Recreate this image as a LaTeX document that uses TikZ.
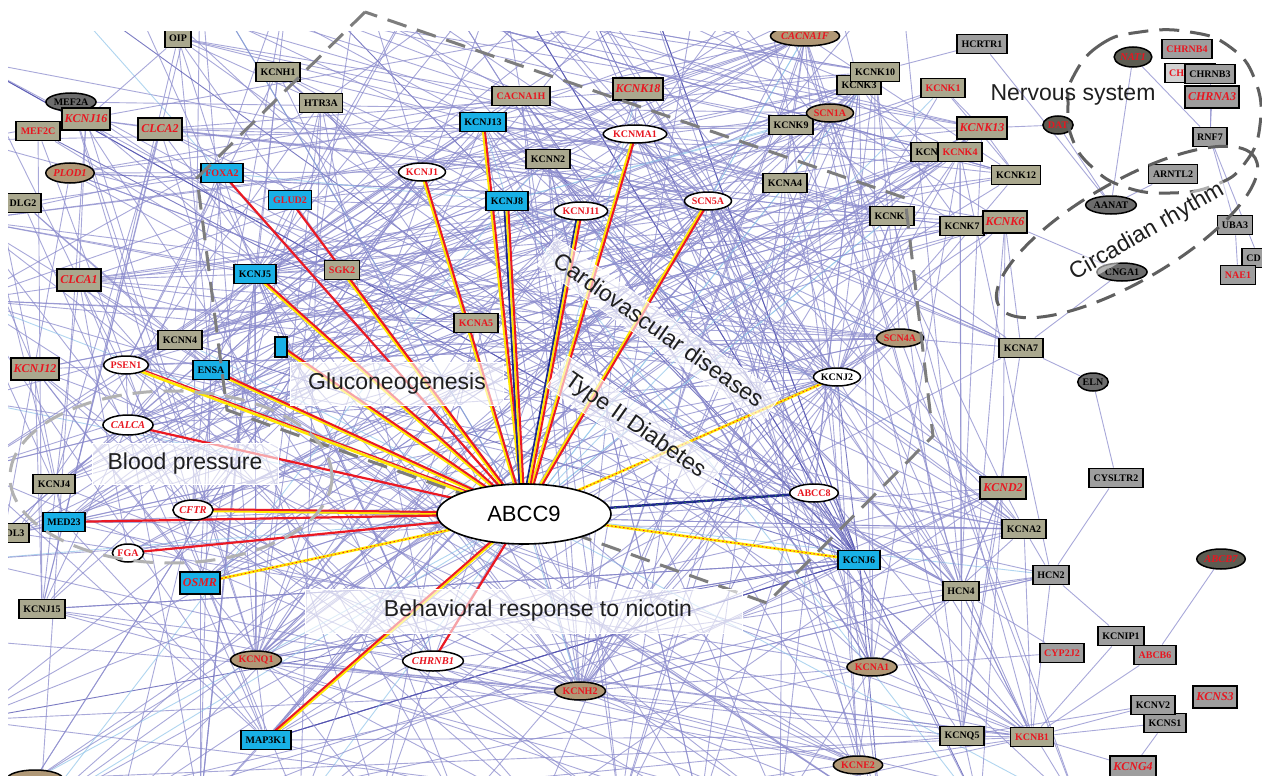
\documentclass[tikz,border=0pt]{standalone}
\usepackage{fontspec}
\setmainfont{Liberation Sans}
\newfontfamily\gnserif{Liberation Serif}
\usetikzlibrary{shapes.geometric,calc}
\pgfdeclarelayer{edgelayer}
\pgfdeclarelayer{dashlayer}
\pgfdeclarelayer{toplayer}
\pgfsetlayers{edgelayer,main,dashlayer,toplayer}
\definecolor{khaki}{RGB}{170,168,142}
\definecolor{kellf}{RGB}{176,152,118}
\definecolor{grayf}{RGB}{158,158,158}
\definecolor{cyanf}{RGB}{24,176,230}
\definecolor{darkf}{RGB}{108,108,108}
\definecolor{darkr}{RGB}{92,92,82}
\definecolor{redt}{RGB}{232,22,32}
\definecolor{lavc}{RGB}{140,140,205}
\definecolor{lavd}{RGB}{80,80,175}
\definecolor{lblu}{RGB}{150,200,235}
\definecolor{dashg}{RGB}{125,125,125}
\definecolor{dashd}{RGB}{95,95,95}
\definecolor{spred}{RGB}{235,25,35}
\definecolor{spyel}{RGB}{255,232,0}
\definecolor{spblu}{RGB}{30,40,140}
\newcommand{\gnfont}{\gnserif\bfseries\fontsize{10}{11}\selectfont}
\newcommand{\lblfont}{\fontsize{23}{26}\selectfont}
\newcommand{\spR}[1]{\draw[draw=spred, line width=2.2pt] (abcc9.center) -- (#1.center);}
\newcommand{\spRY}[1]{%
 \draw[draw=spyel, line width=2pt] ($(abcc9.center)!1pt!90:(#1.center)$) -- ($(#1.center)!1pt!-90:(abcc9.center)$);
 \draw[draw=spred, line width=2pt] ($(abcc9.center)!1pt!-90:(#1.center)$) -- ($(#1.center)!1pt!90:(abcc9.center)$);}
\newcommand{\spYR}[1]{%
 \draw[draw=spyel, line width=2.6pt] ($(abcc9.center)!0.8pt!90:(#1.center)$) -- ($(#1.center)!0.8pt!-90:(abcc9.center)$);
 \draw[draw=spred, line width=1.2pt] ($(abcc9.center)!1.4pt!-90:(#1.center)$) -- ($(#1.center)!1.4pt!90:(abcc9.center)$);}
\newcommand{\spRYB}[1]{%
 \draw[draw=spblu, line width=1.8pt] ($(abcc9.center)!3pt!90:(#1.center)$) -- ($(#1.center)!3pt!-90:(abcc9.center)$);
 \draw[draw=spyel, line width=2pt] ($(abcc9.center)!1pt!90:(#1.center)$) -- ($(#1.center)!1pt!-90:(abcc9.center)$);
 \draw[draw=spred, line width=2pt] ($(abcc9.center)!1pt!-90:(#1.center)$) -- ($(#1.center)!1pt!90:(abcc9.center)$);}
\newcommand{\spYD}[1]{%
 \draw[draw=spyel, line width=2.6pt] (abcc9.center) -- (#1.center);
 \draw[draw=spred, line width=0.8pt, dash pattern=on 1.5pt off 2.5pt] (abcc9.center) -- (#1.center);}
\newcommand{\spB}[1]{%
 \draw[draw=spblu, line width=2.4pt] (abcc9.center) -- (#1.center);
 \draw[draw=green!70!yellow, line width=0.6pt, dash pattern=on 1pt off 6pt] (abcc9.center) -- (#1.center);}
\def\poolarr{{1,2,3,4,5,6,7,8,9,10,11,12,13,14,15,16,17,18,19,20,21,22,23,24,25,26,27,28,29,30,31,32,33,34,35,36,37,39,40,41,42,43,44,45,59,60,62,63,64,65,66,67,68,69,70,71,72,73,74,75,76,77,78,80,82,83,87,91,92,94,95,96,97,98,99,100,101,102,103,104,105,106,107,108,109,110,111,112,113,114,115,116,117,118,119,120,121,122,123,124,125,126,127,128,129}}
\tikzset{
 nb/.style={font=\gnfont, text=black, draw=black, line width=1.8pt, inner xsep=4.5pt, inner ysep=0pt, minimum height=19pt},
 kbox/.style={nb, rectangle, fill=khaki},
 gbox/.style={nb, rectangle, fill=grayf},
 bbox/.style={nb, rectangle, fill=cyanf},
 ell/.style={nb, ellipse, inner xsep=0.5pt, line width=1.5pt, minimum height=18pt},
 well/.style={ell, fill=white},
 kell/.style={ell, fill=kellf},
 dell/.style={ell, fill=darkf},
 rt/.style={text=redt},
 itx/.style={font=\gnserif\bfseries\itshape\fontsize{12}{13}\selectfont, minimum height=22pt, inner xsep=3pt},
 ite/.style={font=\gnserif\bfseries\itshape\fontsize{10.5}{11}\selectfont, minimum height=20pt},
 lnk/.style={line width=0.9pt, draw opacity=0.75},
 dashreg/.style={draw=dashg, line width=3pt, dash pattern=on 20pt off 11pt},
 regbox/.style={fill=white, fill opacity=0.6, text opacity=1, draw=white, line width=0.8pt, font=\lblfont, text=black!88},
 lbl/.style={font=\lblfont, text=black!88},
}
\begin{document}
\begin{tikzpicture}[x=1pt,y=-1pt]
\useasboundingbox (0,0) rectangle (1262,776);
% ---------- nodes ----------
\begin{scope}
\clip (8,32) rectangle (1262,776);
\node[kbox, alias=v1] (oip) at (178,38) {OIP};
\node[kbox, alias=v2] (kcnh1) at (278,72) {KCNH1};
\node[kbox, alias=v3] (htr3a) at (321,103) {HTR3A};
\node[dell, alias=v4] (mef2a) at (71,102) {MEF2A};
\node[kbox, rt, alias=v6] (mef2c) at (38,131) {MEF2C};
\node[kbox, rt, itx, alias=v5] (kcnj16) at (86,119) {KCNJ16};
\node[kbox, rt, itx, alias=v7] (clca2) at (160,129) {CLCA2};
\node[kell, rt, ite, alias=v8] (plod1) at (70,173) {PLOD1};
\node[kbox, alias=v9] (dlg2) at (23,203) {DLG2};
\node[bbox, rt, alias=v10] (foxa2) at (222,173) {FOXA2};
\node[bbox, rt, alias=v11] (glud2) at (290,200) {GLUD2};
\node[kbox, rt, itx, alias=v12] (clca1) at (79,280) {CLCA1};
\node[bbox, alias=v13] (kcnj5) at (255,274) {KCNJ5};
\node[kbox, rt, alias=v14] (sgk2) at (342,270) {SGK2};
\node[kbox, alias=v15] (kcnn4) at (180,340) {KCNN4};
\node[bbox, minimum width=12pt, minimum height=20pt, inner sep=0pt, alias=v16] (blank) at (281,347) {};
\node[kbox, rt, itx, alias=v17] (kcnj12) at (35,369) {KCNJ12};
\node[well, rt, alias=v18] (psen1) at (126,365) {PSEN1};
\node[bbox, alias=v19] (ensa) at (211,370) {ENSA};
\node[kbox, rt, alias=v20] (cacna1h) at (521,96) {CACNA1H};
\node[kbox, rt, itx, alias=v21] (kcnk18) at (638,89) {KCNK18};
\node[bbox, alias=v22] (kcnj13) at (483,122) {KCNJ13};
\node[well, rt, alias=v23] (kcnma1) at (635,134) {KCNMA1};
\node[kbox, alias=v24] (kcnn2) at (548,159) {KCNN2};
\node[well, rt, alias=v25] (kcnj1) at (422,172) {KCNJ1};
\node[bbox, alias=v26] (kcnj8) at (507,201) {KCNJ8};
\node[well, rt, alias=v27] (kcnj11) at (581,211) {KCNJ11};
\node[well, rt, alias=v28] (scn5a) at (708,201) {SCN5A};
\node[kbox, alias=v29] (kcna4) at (785,183) {KCNA4};
\node[kbox, rt, alias=v30] (kcna5) at (476,323) {KCNA5};
\node[kell, rt, ite, alias=v31] (cacna1f) at (805,36) {CACNA1F};
\node[kbox, alias=v32] (kcnk9) at (791,125) {KCNK9};
\node[kell, rt, alias=v33] (scn1a) at (830,113) {SCN1A};
\node[well, alias=v34] (kcnj2) at (837,377) {KCNJ2};
\node[kbox, alias=v36] (kcnk3) at (859,85) {KCNK3};
\node[kbox, alias=v35] (kcnk10) at (875,72) {KCNK10};
\node[kbox, rt, alias=v37] (kcnk1a) at (943,88) {KCNK1};
\node[gbox, alias=v38] (hcrtr1) at (982,44) {HCRTR1};
\node[kbox, rt, itx, alias=v39] (kcnk13) at (982,128) {KCNK13};
\node[kbox, alias=v40] (kcnk5) at (933,152) {KCNK5};
\node[kbox, rt, alias=v41] (kcnk4) at (960,152) {KCNK4};
\node[kbox, alias=v42] (kcnk12) at (1016,175) {KCNK12};
\node[kbox, alias=v43] (kcnk1b) at (892,216) {KCNK1};
\node[kbox, alias=v44] (kcnk7) at (962,226) {KCNK7};
\node[kbox, rt, itx, alias=v45] (kcnk6) at (1005,222) {KCNK6};
\node[dell, rt, ite, fill=darkr, alias=v46] (nat1) at (1133,57) {NAT1};
\node[gbox, rt, alias=v47] (chrnb4) at (1187,49) {CHRNB4};
\node[gbox, rt, fill=gray!35, alias=v48] (chrnax) at (1190,73) {CH\phantom{RNA4}};
\node[gbox, alias=v49] (chrnb3) at (1210,74) {CHRNB3};
\node[gbox, rt, itx, alias=v50] (chrna3) at (1212,97) {CHRNA3};
\node[gbox, alias=v51] (rnf7) at (1210,137) {RNF7};
\node[dell, rt, fill=darkr, alias=v52] (dat) at (1058,125) {DAT};
\node[gbox, alias=v53] (arntl2) at (1173,174) {ARNTL2};
\node[dell, alias=v54] (aanat) at (1111,205) {AANAT};
\node[gbox, alias=v55] (uba3) at (1235,225) {UBA3};
\node[gbox, anchor=west, alias=v56] (cdx) at (1241,258) {CD\phantom{36}};
\node[gbox, rt, alias=v57] (nae1) at (1238,275) {NAE1};
\node[dell, alias=v58] (cnga1) at (1122,272) {CNGA1};
\node[kell, rt, alias=v59] (scn4a) at (900,338) {SCN4A};
\node[kbox, alias=v60] (kcna7) at (1021,348) {KCNA7};
\node[dell, alias=v61] (eln) at (1093,382) {ELN};
\node[well, rt, ite, alias=v62] (calca) at (128,425) {CALCA};
\node[kbox, alias=v63] (kcnj4) at (54,484) {KCNJ4};
\node[bbox, alias=v64] (med23) at (64,522) {MED23};
\node[kbox, alias=v65] (dl3) at (15,533) {DL3};
\node[well, rt, ite, alias=v66] (cftr) at (193,510) {CFTR};
\node[well, rt, alias=v67] (fga) at (128,553) {FGA};
\node[bbox, rt, itx, alias=v68] (osmr) at (200,583) {OSMR};
\node[kbox, alias=v69] (kcnj15) at (42,609) {KCNJ15};
\node[kell, rt, alias=v70] (kcnq1) at (256,660) {KCNQ1};
\node[bbox, alias=v71] (map3k1) at (266,740) {MAP3K1};
\node[kell, minimum width=56pt, alias=v72] (plodx) at (35,779) {};
\node[well, rt, alias=v74] (abcc8) at (814,493) {ABCC8};
\node[bbox, alias=v75] (kcnj6) at (859,560) {KCNJ6};
\node[well, rt, ite, alias=v76] (chrnb1) at (433,661) {CHRNB1};
\node[kell, rt, alias=v77] (kcnh2) at (580,691) {KCNH2};
\node[kbox, rt, itx, alias=v78] (kcnd2) at (1003,488) {KCND2};
\node[gbox, alias=v79] (cysltr2) at (1116,478) {CYSLTR2};
\node[kbox, alias=v80] (kcna2) at (1024,529) {KCNA2};
\node[dell, rt, ite, fill=darkr, alias=v81] (abcb7) at (1221,559) {ABCB7};
\node[gbox, alias=v82] (hcn2) at (1051,575) {HCN2};
\node[kbox, alias=v83] (hcn4) at (961,591) {HCN4};
\node[gbox, alias=v84] (kcnip1) at (1121,636) {KCNIP1};
\node[gbox, rt, alias=v85] (abcb6) at (1155,655) {ABCB6};
\node[gbox, rt, alias=v86] (cyp) at (1062,653) {CYP2J2};
\node[kell, rt, alias=v87] (kcna1) at (872,667) {KCNA1};
\node[gbox, alias=v89] (kcns1) at (1165,723) {KCNS1};
\node[gbox, alias=v88] (kcnv2) at (1153,705) {KCNV2};
\node[gbox, rt, itx, alias=v90] (kcns3) at (1215,697) {KCNS3};
\node[kbox, alias=v91] (kcnq5) at (962,736) {KCNQ5};
\node[kbox, rt, alias=v92] (kcnb1) at (1032,737) {KCNB1};
\node[gbox, rt, itx, alias=v93] (kcng4) at (1133,767) {KCNG4};
\node[kell, rt, alias=v94] (kcne2) at (858,765) {KCNE2};
\end{scope}
% outside free ends
\foreach \i/\x/\y in {95/40/-30,96/120/-30,97/200/-30,98/290/-30,99/360/-30,100/430/-30,101/500/-30,102/570/-30,103/640/-30,104/700/-30,105/760/-30,106/830/-30,107/900/-30,
 108/-30/60,109/-30/140,110/-30/220,111/-30/300,112/-30/400,113/-30/470,114/-30/560,115/-30/640,116/-30/720,
 117/40/810,118/120/810,119/200/810,120/300/810,121/380/810,122/460/810,123/540/810,124/620/810,125/700/810,126/780/810,127/880/810,128/980/810,129/1080/810}
 \coordinate (v\i) at (\x,\y);
% ---------- central node ----------
\begin{pgfonlayer}{toplayer}
\node[ellipse, draw=black, line width=1.6pt, fill=white, minimum width=174pt, minimum height=60pt, inner sep=0pt, font=\fontsize{22}{24}\selectfont, alias=v73] (abcc9) at (524,514) {ABCC9};
\end{pgfonlayer}
% ---------- edges ----------
\begin{pgfonlayer}{edgelayer}
\fill[white] (0,0) rectangle (1262,776);
\begin{scope}
\clip (8,32) rectangle (1262,776);
\pgfmathsetseed{20240}
\foreach \hb/\kb/\cb in {13/28/lavc,19/10/lavc,15/10/lavc,28/28/lavc,34/28/lavc,75/26/lavd,77/28/lavc,70/22/lavc,66/20/lavc,87/14/lavc,73/26/lblu,36/14/lavc,41/10/lavc,39/6/lavc,27/10/lavc,26/10/lblu,23/10/lavc,22/12/lavc,64/12/lavc,63/6/lavc,18/8/lavc,62/8/lavc,31/10/lavc,20/8/lavc,83/10/lavc,80/6/lavc,78/8/lavc,92/8/lavc,91/5/lavc,94/8/lavc,59/12/lavc,25/8/lavc,30/6/lavc,12/6/lavc,7/6/lavc,5/5/lavc,17/6/lavc,69/6/lavc,71/8/lavc,76/6/lavc,68/6/lavc,2/5/lavc,3/5/lavc,24/6/lavc,29/6/lavc,32/8/lavc,33/6/lavc,35/8/lavc,42/6/lavc,43/8/lavc,44/6/lavc,45/6/lavc}{
  \foreach \j in {1,...,\kb}{
    \pgfmathrandominteger{\rr}{0}{104}
    \pgfmathtruncatemacro{\tgt}{\poolarr[\rr]}
    \ifnum\tgt=\hb\else\draw[lnk, draw=\cb] (v\hb) -- (v\tgt);\fi
  }
}
\foreach \j in {1,...,40}{
  \pgfmathrandominteger{\ra}{0}{104}
  \pgfmathrandominteger{\rb}{0}{104}
  \pgfmathtruncatemacro{\ta}{\poolarr[\ra]}
  \pgfmathtruncatemacro{\tb}{\poolarr[\rb]}
  \ifnum\ta=\tb\else\draw[lnk, draw=lavc] (v\ta) -- (v\tb);\fi
}
\foreach \a/\b in {hcrtr1/aanat,nat1/aanat,nat1/rnf7,dat/aanat,kcnk13/dat,arntl2/aanat,chrnb3/rnf7,chrna3/rnf7,rnf7/uba3,rnf7/cdx,uba3/nae1,kcnk6/cnga1,cnga1/kcna7,kcna7/eln,scn4a/kcna7,eln/cysltr2,cysltr2/hcn2,kcna2/hcn2,hcn2/kcnip1,hcn4/hcn2,abcb7/abcb6,kcnip1/kcnb1,abcb6/kcnb1,cyp/kcna1,kcnq5/kcnb1,kcnb1/kcnv2,kcnb1/kcns1,kcnb1/kcng4,kcns1/kcng4,kcnb1/hcn2,hcrtr1/kcnk10,kcnk6/kcna7,kcnd2/kcna2,kcna2/kcnb1,hcn4/kcnb1,cyp/hcn4,kcnv2/kcnq5,kcna1/kcnb1,kcnj6/kcnd2,kcnj6/hcn4,kcnj6/kcna2,hcn4/kcna1,kcnk13/kcnk12,kcnk1a/kcnk13}
  \draw[lnk, draw=lavc] (\a) -- (\b);
% coloured links of ABCC9
\spR{foxa2} \spR{glud2} \spRY{sgk2} \spRY{kcnj5} \spRY{blank} \spYR{psen1} \spRY{ensa}
\spR{calca} \spRY{cftr} \spR{med23} \spR{fga} \spYD{osmr} \spRY{kcnj1} \spRY{kcnj13}
\spRYB{kcnj8} \spRY{kcnma1} \spRYB{kcnj11} \spRY{scn5a} \spYD{kcnj2} \spB{abcc8}
\spYD{kcnj6} \spR{chrnb1} \spRY{map3k1}
\end{scope}
\end{pgfonlayer}
% ---------- regions and labels ----------
\begin{pgfonlayer}{dashlayer}
\draw[dashreg] (365,12) -- (197,178) -- (227,410) -- (767,603) -- (933,436) -- (905,198) -- cycle;
\draw[dashreg, draw=gray!60] (171,477) ellipse [x radius=161pt, y radius=86pt];
\draw[dashreg, draw=dashd] plot[smooth cycle, tension=0.8] coordinates {(1073,77) (1100,45) (1140,32) (1190,32) (1230,47) (1255,80) (1260,125) (1245,163) (1215,185) (1170,193) (1125,187) (1092,167) (1072,138) (1068,105)};
\draw[dashreg, draw=dashd, rotate around={30:(1127,232)}] (1127,232) ellipse [x radius=148pt, y radius=50pt];
\node[regbox, minimum width=213pt, minimum height=43pt] (glucon) at (397,384) {Gluconeogenesis};
\node[regbox, minimum width=186pt, minimum height=41pt] (bloodp) at (185,464) {Blood pressure};
\fill[white, opacity=0.6] (305,589) rectangle (742,633);
\draw[white, line width=0.8pt] (305,589) rectangle (742,633);
\node[lbl] (behav) at (538,611) {Behavioral response to nicotin};
\node[regbox, rotate=-35, inner xsep=12pt, inner ysep=8pt] (cardio) at (659,330) {Cardiovascular diseases};
\node[regbox, rotate=-35, inner xsep=12pt, inner ysep=8pt] (diab) at (635,426) {Type II Diabetes};
\node[regbox, draw=none, fill opacity=0.5, rotate=30, inner xsep=4pt, inner ysep=2pt] (circ) at (1147,232) {Circadian rhythm};
\node[lbl] (nerv) at (1073,95) {Nervous system};
\end{pgfonlayer}
\end{tikzpicture}
\end{document}
